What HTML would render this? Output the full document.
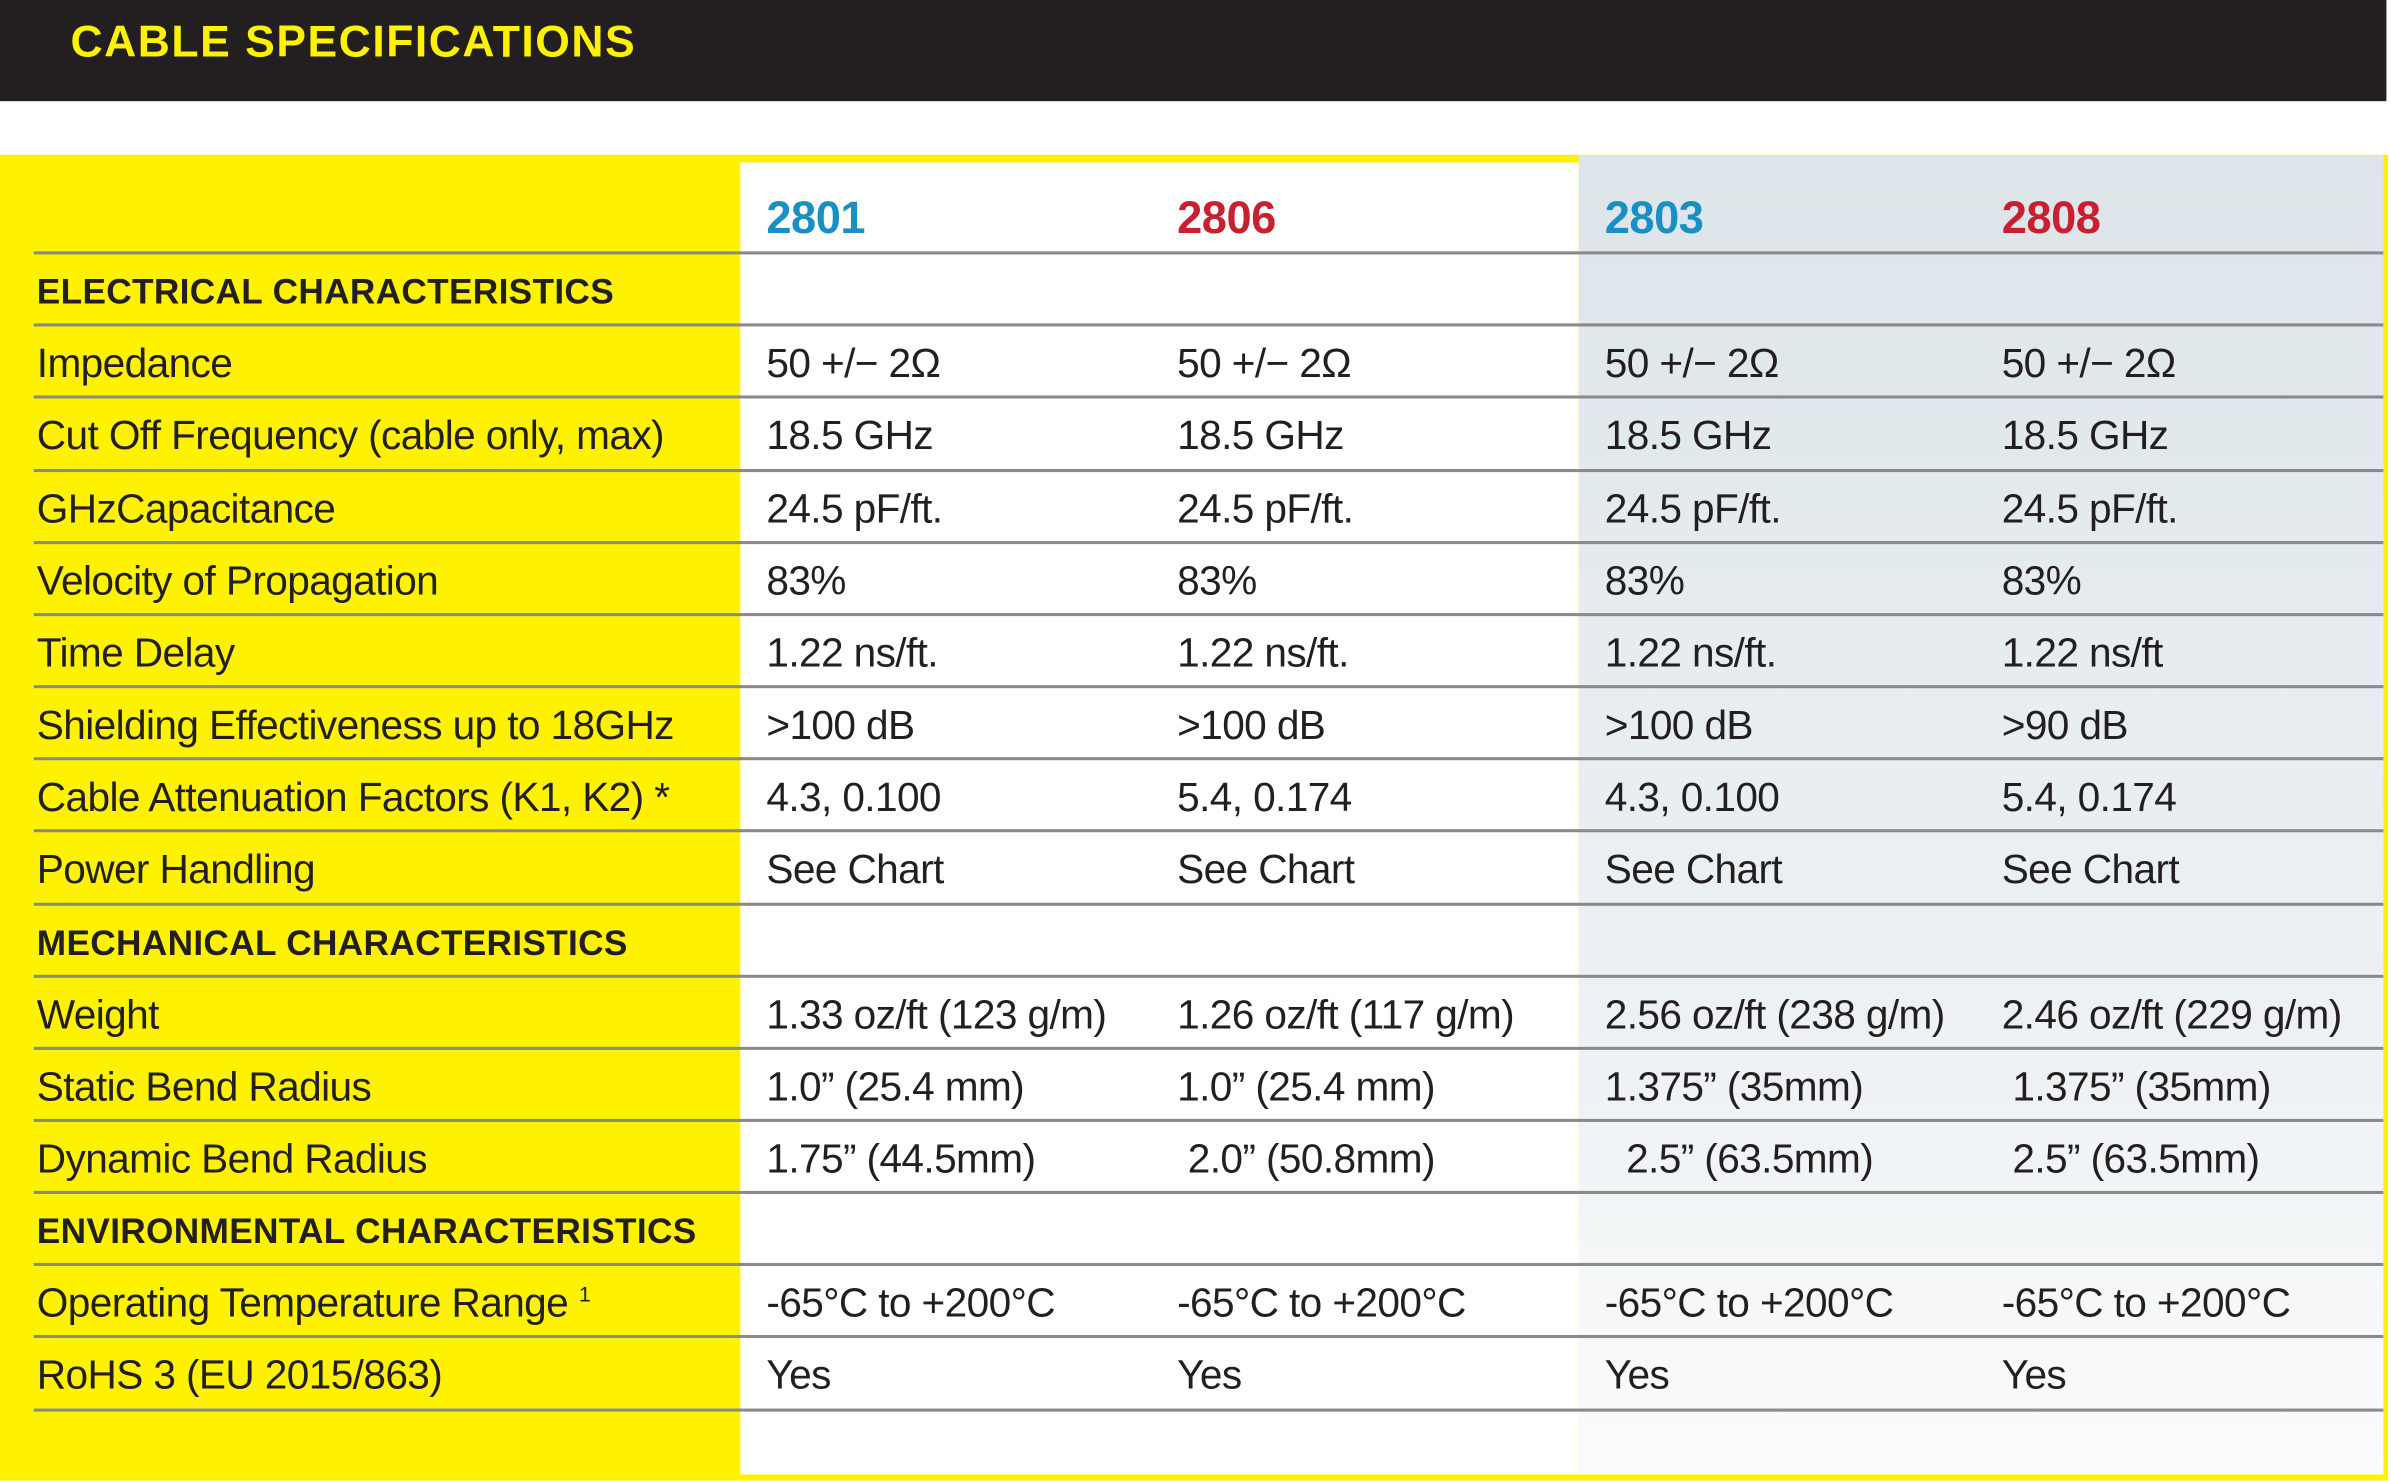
<!DOCTYPE html>
<html><head><meta charset="utf-8"><style>
html,body{margin:0;padding:0;background:#fff;width:2391px;height:1476px;overflow:hidden}
#w{position:absolute;left:0;top:0;width:1560px;height:963px;transform:scale(1.5327);transform-origin:0 0;font-family:"Liberation Sans",sans-serif;color:#231f20}
.a{position:absolute}
.ln{position:absolute;left:22px;width:1533px;height:2px;background:#8a8a8a}
.t{position:absolute;font-size:26.5px;line-height:30px;white-space:nowrap;letter-spacing:-0.4px}
.s{position:absolute;font-size:23px;font-weight:bold;line-height:30px;white-space:nowrap;letter-spacing:0.2px}
.h{position:absolute;font-size:29.5px;font-weight:bold;top:126px;letter-spacing:-0.3px}
sup{font-size:14px;line-height:0;vertical-align:10px}
</style></head><body><div id="w">
<div class="a" style="left:0;top:0;width:1557px;height:66px;background:#231f20"></div>
<div class="a" style="left:46px;top:12px;font-size:29px;font-weight:bold;color:#fff200;letter-spacing:1px">CABLE SPECIFICATIONS</div>
<div class="a" style="left:0;top:101px;width:1558px;height:865px;background:#fff200"></div>
<div class="a" style="left:483px;top:106px;width:547px;height:856px;background:#fff"></div>
<div class="a" style="left:1030px;top:101px;width:525px;height:861px;background:linear-gradient(#dde5ea,#eef2f4 70%,#fbfcfc)"></div>
<div class="h" style="left:500px;color:#1a8fc4">2801</div>
<div class="h" style="left:768px;color:#c8202f">2806</div>
<div class="h" style="left:1047px;color:#1a8fc4">2803</div>
<div class="h" style="left:1306px;color:#c8202f">2808</div>
<div id="rows"></div>
</div>
<script>
var ys=[165,212,259,307,354,401,448,495,542,590,637,684,731,778,825,872,920];
var rows=[
["S","ELECTRICAL CHARACTERISTICS"],
["Impedance","50 +/− 2Ω","50 +/− 2Ω","50 +/− 2Ω","50 +/− 2Ω"],
["Cut Off Frequency (cable only, max)","18.5 GHz","18.5 GHz","18.5 GHz","18.5 GHz"],
["GHzCapacitance","24.5 pF/ft.","24.5 pF/ft.","24.5 pF/ft.","24.5 pF/ft."],
["Velocity of Propagation","83%","83%","83%","83%"],
["Time Delay","1.22 ns/ft.","1.22 ns/ft.","1.22 ns/ft.","1.22 ns/ft"],
["Shielding Effectiveness up to 18GHz",">100 dB",">100 dB",">100 dB",">90 dB"],
["Cable Attenuation Factors (K1, K2) *","4.3, 0.100","5.4, 0.174","4.3, 0.100","5.4, 0.174"],
["Power Handling","See Chart","See Chart","See Chart","See Chart"],
["S","MECHANICAL CHARACTERISTICS"],
["Weight","1.33 oz/ft (123 g/m)","1.26 oz/ft (117 g/m)","2.56 oz/ft (238 g/m)","2.46 oz/ft (229 g/m)"],
["Static Bend Radius","1.0” (25.4 mm)","1.0” (25.4 mm)","1.375” (35mm)","&nbsp;1.375” (35mm)"],
["Dynamic Bend Radius","1.75” (44.5mm)","&nbsp;2.0” (50.8mm)","&nbsp;&nbsp;2.5” (63.5mm)","&nbsp;2.5” (63.5mm)"],
["S","ENVIRONMENTAL CHARACTERISTICS"],
["Operating Temperature Range <sup>1</sup>","-65°C to +200°C","-65°C to +200°C","-65°C to +200°C","-65°C to +200°C"],
["RoHS 3 (EU 2015/863)","Yes","Yes","Yes","Yes"]];
var h="",xs=[24,500,768,1047,1306];
ys.forEach(function(y){h+='<div class="ln" style="top:'+(y-1)+'px"></div>';});
rows.forEach(function(r,i){var c=(ys[i]+ys[i+1])/2-15+1;
 if(r[0]=="S"){h+='<div class="s" style="left:24px;top:'+c+'px">'+r[1]+'</div>';}
 else for(var j=0;j<5;j++)h+='<div class="t" style="left:'+xs[j]+'px;top:'+c+'px">'+r[j]+'</div>';});
document.getElementById('rows').innerHTML=h;
</script>
</body></html>
